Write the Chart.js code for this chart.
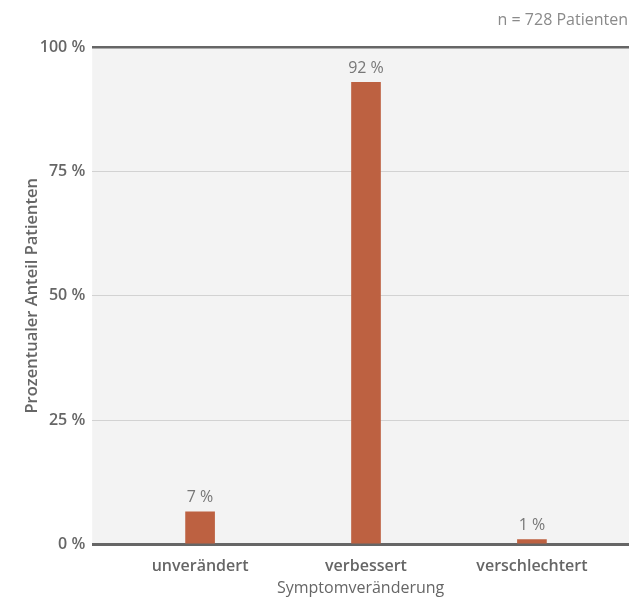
<!DOCTYPE html>
<html>
<head>
<meta charset="utf-8">
<script src="https://cdn.jsdelivr.net/npm/chart.js@4.4.1/dist/chart.umd.min.js"></script>
<style>
  html, body { margin: 0; padding: 0; background: #ffffff; }
  #wrap { width: 631px; height: 599px; position: relative; }
</style>
</head>
<body>
<div id="wrap"><canvas id="c" width="631" height="599"></canvas></div>
<script>
const categories = ["unverändert", "verbessert", "verschlechtert"];
const values = [6.6, 92.9, 1.0];
const valueLabels = ["7 %", "92 %", "1 %"];
const yTicks = [0, 25, 50, 75, 100];
const noteText = "n = 728 Patienten";
const xTitle = "Symptomveränderung";
const yTitle = "Prozentualer Anteil Patienten";

const FONT = "'Open Sans', 'Noto Sans', sans-serif";

const bgPlugin = {
  id: 'plotBg',
  beforeDraw(chart) {
    const a = chart.chartArea, ctx = chart.ctx;
    ctx.save();
    ctx.fillStyle = '#f3f3f3';
    ctx.fillRect(a.left, a.top, a.right - a.left, a.bottom - a.top);
    ctx.restore();
  }
};

const labelPlugin = {
  id: 'valLabels',
  afterDatasetsDraw(chart) {
    const ctx = chart.ctx;
    const meta = chart.getDatasetMeta(0);
    ctx.save();
    ctx.font = "400 16px " + FONT;
    ctx.fillStyle = '#777777';
    ctx.textAlign = 'center';
    ctx.textBaseline = 'bottom';
    meta.data.forEach((bar, i) => {
      ctx.fillText(valueLabels[i], bar.x, bar.y - 6);
    });
    ctx.restore();
  },
  afterDraw(chart) {
    const ctx = chart.ctx;
    ctx.save();
    ctx.font = "400 16px " + FONT;
    ctx.fillStyle = '#8a8a8a';
    ctx.textAlign = 'right';
    ctx.textBaseline = 'middle';
    ctx.fillText(noteText, 628, 20);
    ctx.restore();
  }
};

new Chart(document.getElementById('c'), {
  type: 'bar',
  data: {
    datasets: [{
      data: values.map((v, i) => ({ x: i, y: v })),
      backgroundColor: '#bd6141',
      borderWidth: 0,
      barThickness: 29
    }]
  },
  options: {
    responsive: false,
    animation: false,
    layout: { padding: { top: 47, right: 2, left: 22, bottom: 1 } },
    plugins: { legend: { display: false }, tooltip: { enabled: false }, title: { display: false } },
    scales: {
      x: {
        type: 'linear',
        offset: false,
        min: -0.65,
        max: 2.585,
        afterBuildTicks(scale) { scale.ticks = categories.map((c, i) => ({ value: i })); },
        ticks: {
          callback: (v) => categories[v] ?? '',
          color: '#666666',
          font: { family: FONT, size: 16, weight: '600' },
          padding: 12,
          maxRotation: 0,
          autoSkip: false
        },
        grid: { display: false, drawTicks: false },
        border: { display: false },
        title: {
          display: true,
          text: xTitle,
          color: '#666666',
          font: { family: FONT, size: 16, weight: '400' },
          padding: { top: -9, bottom: 0 }
        }
      },
      y: {
        min: 0,
        max: 100,
        afterBuildTicks(scale) { scale.ticks = yTicks.map(v => ({ value: v })); },
        ticks: {
          callback: (v) => v + ' %',
          color: '#666666',
          font: { family: FONT, size: 16, weight: '600' },
          padding: 7
        },
        grid: {
          drawTicks: false,
          color: (ctx) => (ctx.tick && (ctx.tick.value === 0 || ctx.tick.value === 100)) ? '#666666' : '#d2d2d2',
          lineWidth: (ctx) => (ctx.tick && ctx.tick.value === 0) ? 3 : (ctx.tick && ctx.tick.value === 100 ? 2.5 : 1)
        },
        border: { display: false },
        title: {
          display: true,
          text: yTitle,
          color: '#666666',
          font: { family: FONT, size: 16.5, weight: '600' },
          padding: { top: 0, bottom: -9 }
        }
      }
    }
  },
  plugins: [bgPlugin, labelPlugin]
});
</script>
</body>
</html>
